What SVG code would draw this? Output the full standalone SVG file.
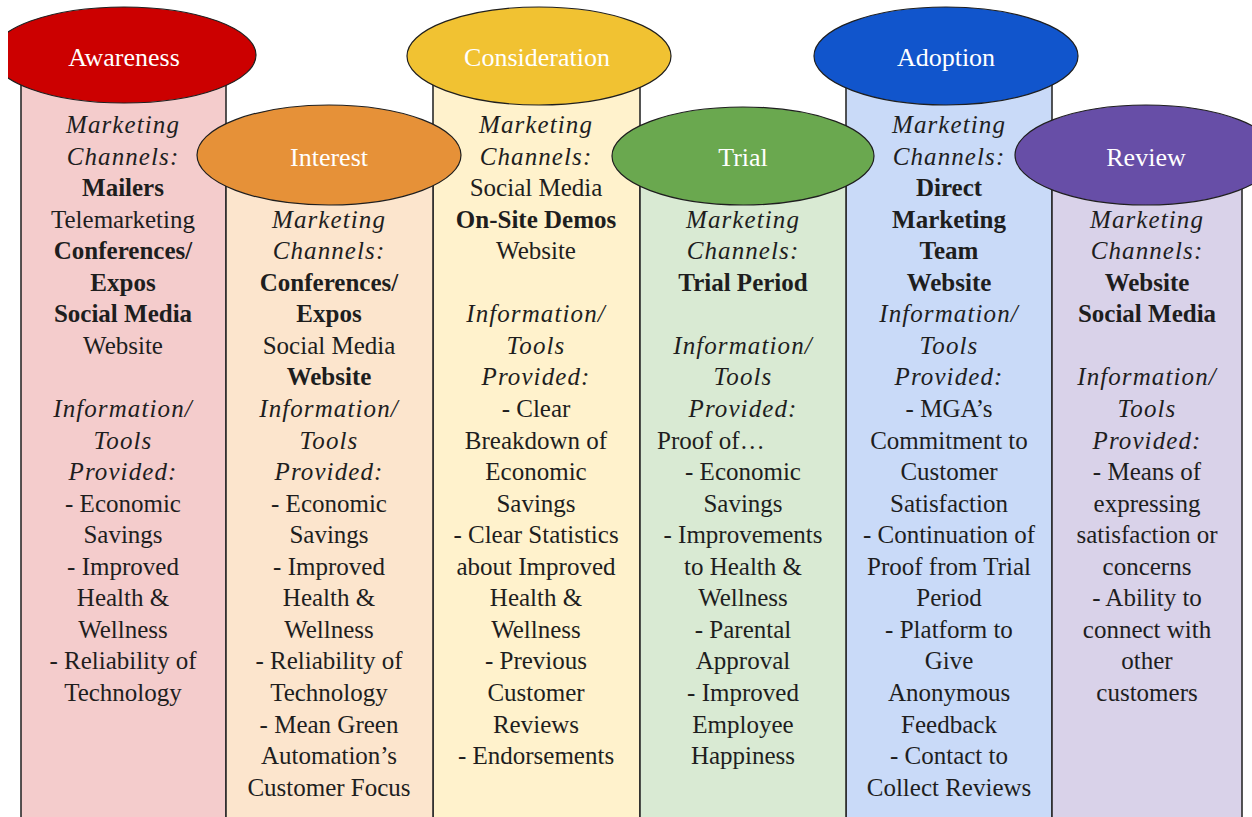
<svg xmlns="http://www.w3.org/2000/svg" width="1252" height="817" viewBox="0 0 1252 817">
  <style>
    .col { stroke: #2b2b2b; stroke-width: 1.6; }
    .hdr { stroke: #1f1f1f; stroke-width: 1.2; }
    .lbl { font-family: "Liberation Serif", "Times New Roman", serif; font-size: 26px; fill: #ffffff; text-anchor: middle; }
    .t { font-family: "Liberation Serif", "Times New Roman", serif; font-size: 25px; fill: #1e1e1e; text-anchor: middle; }
    .i { font-style: italic; letter-spacing: 1.1px; }
    .b { font-weight: bold; }
  </style>
  <defs>
    <clipPath id="leftEdge">
      <rect x="8" y="0" width="1244" height="817"/>
    </clipPath>
  </defs>
  <rect x="0" y="0" width="1252" height="817" fill="#ffffff"/>

  <!-- Awareness -->
  <g id="awareness">
    <rect class="col" x="21" y="55" width="205" height="780" fill="#f4cccc"/>
    <ellipse class="hdr" cx="124" cy="55" rx="132" ry="48" fill="#cc0000" clip-path="url(#leftEdge)"/>
    <text class="lbl" x="124" y="66">Awareness</text>
    <text class="t i" x="123" y="133">Marketing</text>
    <text class="t i" x="123" y="164.6">Channels:</text>
    <text class="t b" x="123" y="196.1">Mailers</text>
    <text class="t" x="123" y="227.7">Telemarketing</text>
    <text class="t b" x="123" y="259.2">Conferences/</text>
    <text class="t b" x="123" y="290.8">Expos</text>
    <text class="t b" x="123" y="322.3">Social Media</text>
    <text class="t" x="123" y="353.9">Website</text>
    <text class="t i" x="123" y="417">Information/</text>
    <text class="t i" x="123" y="448.5">Tools</text>
    <text class="t i" x="123" y="480.1">Provided:</text>
    <text class="t" x="123" y="511.6">- Economic</text>
    <text class="t" x="123" y="543.2">Savings</text>
    <text class="t" x="123" y="574.7">- Improved</text>
    <text class="t" x="123" y="606.3">Health &amp;</text>
    <text class="t" x="123" y="637.8">Wellness</text>
    <text class="t" x="123" y="669.4">- Reliability of</text>
    <text class="t" x="123" y="700.9">Technology</text>
  </g>

  <!-- Consideration -->
  <g id="consideration">
    <rect class="col" x="433" y="56" width="207" height="780" fill="#fff2cc"/>
    <ellipse class="hdr" cx="539" cy="56" rx="132" ry="49" fill="#f1c232"/>
    <text class="lbl" x="537" y="66">Consideration</text>
    <text class="t i" x="536" y="133">Marketing</text>
    <text class="t i" x="536" y="164.6">Channels:</text>
    <text class="t" x="536" y="196.1">Social Media</text>
    <text class="t b" x="536" y="227.7">On-Site Demos</text>
    <text class="t" x="536" y="259.2">Website</text>
    <text class="t i" x="536" y="322.3">Information/</text>
    <text class="t i" x="536" y="353.9">Tools</text>
    <text class="t i" x="536" y="385.4">Provided:</text>
    <text class="t" x="536" y="417">- Clear</text>
    <text class="t" x="536" y="448.5">Breakdown of</text>
    <text class="t" x="536" y="480.1">Economic</text>
    <text class="t" x="536" y="511.6">Savings</text>
    <text class="t" x="536" y="543.2">- Clear Statistics</text>
    <text class="t" x="536" y="574.7">about Improved</text>
    <text class="t" x="536" y="606.3">Health &amp;</text>
    <text class="t" x="536" y="637.8">Wellness</text>
    <text class="t" x="536" y="669.4">- Previous</text>
    <text class="t" x="536" y="700.9">Customer</text>
    <text class="t" x="536" y="732.5">Reviews</text>
    <text class="t" x="536" y="764">- Endorsements</text>
  </g>

  <!-- Adoption -->
  <g id="adoption">
    <rect class="col" x="846" y="56" width="206" height="780" fill="#c9daf8"/>
    <ellipse class="hdr" cx="946" cy="56" rx="132" ry="49" fill="#1155cc"/>
    <text class="lbl" x="946" y="66">Adoption</text>
    <text class="t i" x="949" y="133">Marketing</text>
    <text class="t i" x="949" y="164.6">Channels:</text>
    <text class="t b" x="949" y="196.1">Direct</text>
    <text class="t b" x="949" y="227.7">Marketing</text>
    <text class="t b" x="949" y="259.2">Team</text>
    <text class="t b" x="949" y="290.8">Website</text>
    <text class="t i" x="949" y="322.3">Information/</text>
    <text class="t i" x="949" y="353.9">Tools</text>
    <text class="t i" x="949" y="385.4">Provided:</text>
    <text class="t" x="949" y="417">- MGA’s</text>
    <text class="t" x="949" y="448.5">Commitment to</text>
    <text class="t" x="949" y="480.1">Customer</text>
    <text class="t" x="949" y="511.6">Satisfaction</text>
    <text class="t" x="949" y="543.2">- Continuation of</text>
    <text class="t" x="949" y="574.7">Proof from Trial</text>
    <text class="t" x="949" y="606.3">Period</text>
    <text class="t" x="949" y="637.8">- Platform to</text>
    <text class="t" x="949" y="669.4">Give</text>
    <text class="t" x="949" y="700.9">Anonymous</text>
    <text class="t" x="949" y="732.5">Feedback</text>
    <text class="t" x="949" y="764">- Contact to</text>
    <text class="t" x="949" y="795.6">Collect Reviews</text>
  </g>

  <!-- Interest -->
  <g id="interest">
    <rect class="col" x="226" y="155" width="207" height="680" fill="#fce5cd"/>
    <ellipse class="hdr" cx="329" cy="155" rx="132" ry="50" fill="#e69138"/>
    <text class="lbl" x="329" y="166">Interest</text>
    <text class="t i" x="329" y="227.7">Marketing</text>
    <text class="t i" x="329" y="259.2">Channels:</text>
    <text class="t b" x="329" y="290.8">Conferences/</text>
    <text class="t b" x="329" y="322.3">Expos</text>
    <text class="t" x="329" y="353.9">Social Media</text>
    <text class="t b" x="329" y="385.4">Website</text>
    <text class="t i" x="329" y="417">Information/</text>
    <text class="t i" x="329" y="448.5">Tools</text>
    <text class="t i" x="329" y="480.1">Provided:</text>
    <text class="t" x="329" y="511.6">- Economic</text>
    <text class="t" x="329" y="543.2">Savings</text>
    <text class="t" x="329" y="574.7">- Improved</text>
    <text class="t" x="329" y="606.3">Health &amp;</text>
    <text class="t" x="329" y="637.8">Wellness</text>
    <text class="t" x="329" y="669.4">- Reliability of</text>
    <text class="t" x="329" y="700.9">Technology</text>
    <text class="t" x="329" y="732.5">- Mean Green</text>
    <text class="t" x="329" y="764">Automation’s</text>
    <text class="t" x="329" y="795.6">Customer Focus</text>
  </g>

  <!-- Trial -->
  <g id="trial">
    <rect class="col" x="640" y="156" width="206" height="680" fill="#d9ead3"/>
    <ellipse class="hdr" cx="743" cy="156" rx="131" ry="49" fill="#6aa84f"/>
    <text class="lbl" x="743" y="166">Trial</text>
    <text class="t i" x="743" y="227.7">Marketing</text>
    <text class="t i" x="743" y="259.2">Channels:</text>
    <text class="t b" x="743" y="290.8">Trial Period</text>
    <text class="t i" x="743" y="353.9">Information/</text>
    <text class="t i" x="743" y="385.4">Tools</text>
    <text class="t i" x="743" y="417">Provided:</text>
    <text class="t" x="657" y="448.5" text-anchor="start" style="text-anchor:start">Proof of…</text>
    <text class="t" x="743" y="480.1">- Economic</text>
    <text class="t" x="743" y="511.6">Savings</text>
    <text class="t" x="743" y="543.2">- Improvements</text>
    <text class="t" x="743" y="574.7">to Health &amp;</text>
    <text class="t" x="743" y="606.3">Wellness</text>
    <text class="t" x="743" y="637.8">- Parental</text>
    <text class="t" x="743" y="669.4">Approval</text>
    <text class="t" x="743" y="700.9">- Improved</text>
    <text class="t" x="743" y="732.5">Employee</text>
    <text class="t" x="743" y="764">Happiness</text>
  </g>

  <!-- Review -->
  <g id="review">
    <rect class="col" x="1052" y="155" width="190" height="680" fill="#d9d2e9"/>
    <ellipse class="hdr" cx="1146" cy="155" rx="131" ry="50" fill="#674ea7"/>
    <text class="lbl" x="1146" y="166">Review</text>
    <text class="t i" x="1147" y="227.7">Marketing</text>
    <text class="t i" x="1147" y="259.2">Channels:</text>
    <text class="t b" x="1147" y="290.8">Website</text>
    <text class="t b" x="1147" y="322.3">Social Media</text>
    <text class="t i" x="1147" y="385.4">Information/</text>
    <text class="t i" x="1147" y="417">Tools</text>
    <text class="t i" x="1147" y="448.5">Provided:</text>
    <text class="t" x="1147" y="480.1">- Means of</text>
    <text class="t" x="1147" y="511.6">expressing</text>
    <text class="t" x="1147" y="543.2">satisfaction or</text>
    <text class="t" x="1147" y="574.7">concerns</text>
    <text class="t" x="1147" y="606.3">- Ability to</text>
    <text class="t" x="1147" y="637.8">connect with</text>
    <text class="t" x="1147" y="669.4">other</text>
    <text class="t" x="1147" y="700.9">customers</text>
  </g>
</svg>
